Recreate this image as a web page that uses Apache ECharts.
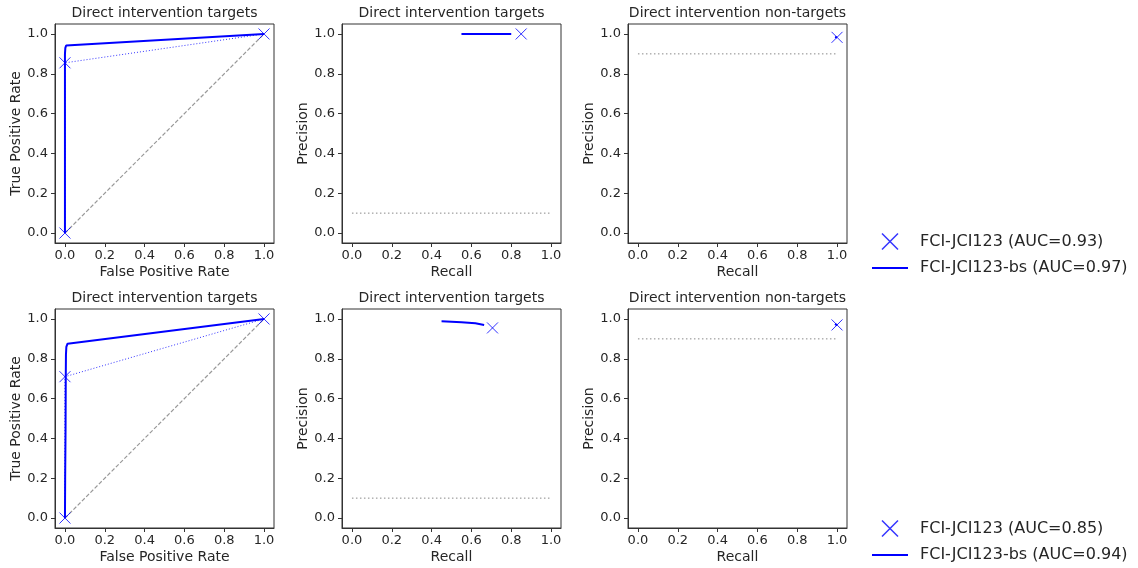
<!DOCTYPE html>
<html><head><meta charset="utf-8">
<script src="https://cdn.jsdelivr.net/npm/echarts@6/dist/echarts.min.js"></script>
<style>html,body{margin:0;padding:0;background:#fff}#c{width:1138px;height:568px}</style>
</head><body><div id="c"></div>
<script>
// ---- data ----
const tickValues = [0, 0.2, 0.4, 0.6, 0.8, 1.0];
const titles = ['Direct intervention targets', 'Direct intervention targets', 'Direct intervention non-targets'];
const xNames = ['False Positive Rate', 'Recall', 'Recall'];
const yNames = ['True Positive Rate', 'Precision', 'Precision'];
const legendTop = ['FCI-JCI123 (AUC=0.93)', 'FCI-JCI123-bs (AUC=0.97)'];
const legendBottom = ['FCI-JCI123 (AUC=0.85)', 'FCI-JCI123-bs (AUC=0.94)'];
const diagonal = [[0, 0], [1, 1]];
// top row
const rocFciTop = [[0, 0], [0, 0.855], [1, 1]];
const rocBsTop = [[0, 0], [0, 0.3], [0, 0.6], [0, 0.9], [0.002, 0.93], [0.006, 0.942], [0.014, 0.947], [1, 1]];
const prFciTop = [[0.85, 1.0]];
const prBsTop = [[0.55, 1.0], [0.8, 1.0]];
const prBaseTop = [[0, 0.1], [1, 0.1]];
const prNtFciTop = [[1.0, 0.983]];
const prNtBsTop = [[0.99, 0.985], [1.0, 0.982]];
const prNtBaseTop = [[0, 0.9], [1, 0.9]];
// bottom row
const rocFciBot = [[0, 0], [0, 0.71], [1, 1]];
const rocBsBot = [[0, 0], [0.001, 0.2], [0.003, 0.45], [0.004, 0.7], [0.005, 0.82], [0.007, 0.86], [0.013, 0.876], [1, 1]];
const prFciBot = [[0.706, 0.955]];
const prBsBot = [[0.45, 0.988], [0.55, 0.984], [0.62, 0.978], [0.664, 0.97]];
const prBaseBot = [[0, 0.1], [1, 0.1]];
const prNtFciBot = [[1.0, 0.97]];
const prNtBsBot = [[0.99, 0.975], [1.0, 0.968]];
const prNtBaseBot = [[0, 0.9], [1, 0.9]];

// ---- layout ----
const BLUE = '#0000ff';
const TXT = '#262626';
const FONT = 'DejaVu Sans';
const colLeft = [55, 342, 628];
const colW = 219;
const rowTop = [24, 309];
const rowH = 219;
const XPATH = 'path://M0,0L10,10M10,0L0,10';

const grids = [], xAxes = [], yAxes = [], titleArr = [], series = [];
for (let r = 0; r < 2; r++) {
  for (let c = 0; c < 3; c++) {
    const i = r * 3 + c;
    grids.push({left: colLeft[c], top: rowTop[r], width: colW, height: rowH, show: true,
      borderColor: '#333', borderWidth: 1, backgroundColor: '#fff', containLabel: false});
    xAxes.push({type: 'value', gridIndex: i, min: -0.05, max: 1.05,
      name: xNames[c], nameLocation: 'middle', nameGap: 22,
      nameTextStyle: {color: TXT, fontSize: 14, fontFamily: FONT},
      axisLine: {show: true, onZero: false, lineStyle: {color: '#333'}},
      axisTick: {show: true, length: 4, customValues: tickValues, lineStyle: {color: '#333'}},
      axisLabel: {customValues: tickValues, color: TXT, fontSize: 13, fontFamily: FONT, margin: 6,
        formatter: v => v.toFixed(1)},
      splitLine: {show: false}});
    yAxes.push({type: 'value', gridIndex: i, min: -0.05, max: 1.05,
      name: yNames[c], nameLocation: 'middle', nameGap: 27,
      nameTextStyle: {color: TXT, fontSize: 14, fontFamily: FONT},
      axisLine: {show: true, onZero: false, lineStyle: {color: '#333'}},
      axisTick: {show: true, length: 4, customValues: tickValues, lineStyle: {color: '#333'}},
      axisLabel: {customValues: tickValues, color: TXT, fontSize: 13, fontFamily: FONT, margin: 7,
        formatter: v => v.toFixed(1)},
      splitLine: {show: false}});
    titleArr.push({text: titles[c], left: colLeft[c] + colW / 2, top: rowTop[r] - 18, textAlign: 'center',
      padding: 0,
      textStyle: {color: TXT, fontSize: 14, fontWeight: 'normal', fontFamily: FONT}});
  }
}

function lineS(i, data, style, name, z) {
  return {type: 'line', name: name, xAxisIndex: i, yAxisIndex: i, data: data, symbol: 'none',
    lineStyle: style, itemStyle: {color: style.color}, z: z || 2, silent: true};
}
function xS(i, data, name) {
  return {type: 'scatter', name: name, xAxisIndex: i, yAxisIndex: i, data: data, symbol: XPATH, symbolSize: 11,
    itemStyle: {color: 'none', borderColor: BLUE, borderWidth: 1}, z: 5, silent: true};
}
const grey = {color: '#999999', width: 1.2, type: [4, 2]};
const dotG = {color: '#888', width: 1, type: [1.5, 2.5]};
const dotB = {color: BLUE, width: 0.8, type: [1, 2]};
const bsL = {color: BLUE, width: 2};

const rows = [
  {names: legendTop, rocF: rocFciTop, rocB: rocBsTop, prF: prFciTop, prB: prBsTop, prBase: prBaseTop, ntF: prNtFciTop, ntB: prNtBsTop, ntBase: prNtBaseTop},
  {names: legendBottom, rocF: rocFciBot, rocB: rocBsBot, prF: prFciBot, prB: prBsBot, prBase: prBaseBot, ntF: prNtFciBot, ntB: prNtBsBot, ntBase: prNtBaseBot}
];
rows.forEach((d, r) => {
  const b = r * 3;
  series.push(lineS(b, diagonal, grey, 'diag' + r, 1));
  series.push(lineS(b, d.rocF, dotB, 'fciline' + r, 2));
  series.push(lineS(b, d.rocB, bsL, d.names[1], 3));
  series.push(xS(b, d.rocF, d.names[0]));
  series.push(lineS(b + 1, d.prBase, dotG, 'base1' + r, 1));
  series.push(lineS(b + 1, d.prB, bsL, d.names[1], 3));
  series.push(xS(b + 1, d.prF, d.names[0]));
  series.push(lineS(b + 2, d.ntBase, dotG, 'base2' + r, 1));
  series.push(lineS(b + 2, d.ntB, bsL, d.names[1], 3));
  series.push(xS(b + 2, d.ntF, d.names[0]));
});

function legend(names, top) {
  return {orient: 'vertical', left: 872, top: top, itemWidth: 36, itemHeight: 16, itemGap: 8,
    padding: 0, height: 60,
    selectedMode: false,
    textStyle: {color: TXT, fontSize: 16, fontFamily: FONT, padding: [0, 0, 0, 7]},
    data: [{name: names[0], icon: XPATH, itemStyle: {color: 'none', borderColor: BLUE, borderWidth: 1.5}},
           {name: names[1], icon: 'path://M0,4L36,4L36,6L0,6Z', itemStyle: {color: BLUE}}]};
}

const chart = echarts.init(document.getElementById('c'), null, {renderer: 'canvas'});
chart.setOption({
  animation: false,
  backgroundColor: '#fff',
  title: titleArr,
  grid: grids, xAxis: xAxes, yAxis: yAxes,
  legend: [legend(legendTop, 231), legend(legendBottom, 518)],
  series: series
});
</script></body></html>
